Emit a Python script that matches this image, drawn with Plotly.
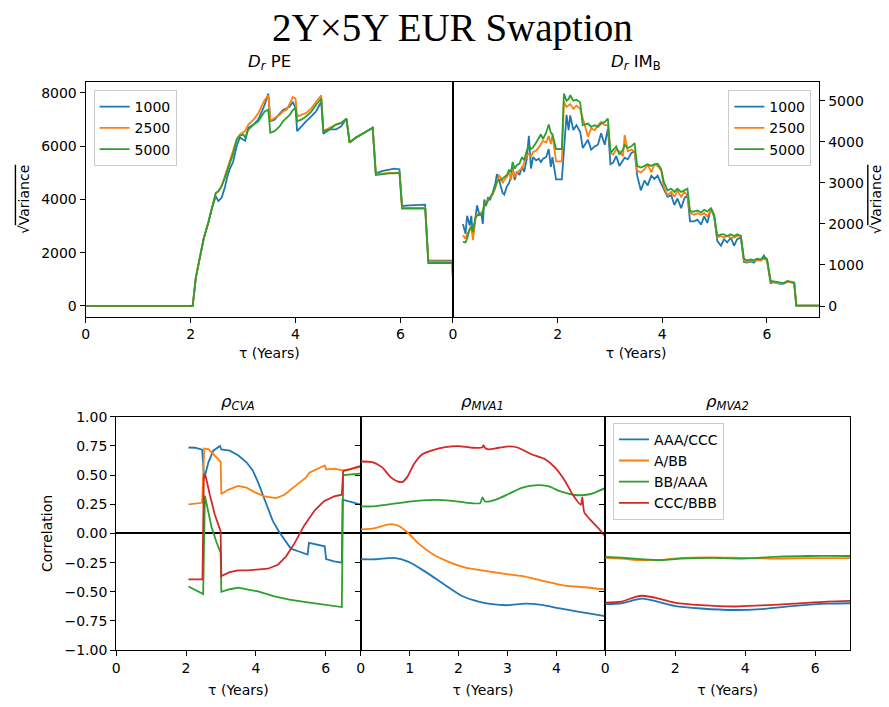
import plotly.graph_objects as go

# ---------------------------------------------------------------- data
# D_r PE : sqrt(variance) against tau for three path counts
pe_t = [0.00, 2.04, 2.10, 2.18, 2.25, 2.34, 2.40, 2.48, 2.53, 2.59,
        2.65, 2.70, 2.75, 2.81, 2.88, 2.94, 3.00, 3.04, 3.10, 3.20,
        3.29, 3.35, 3.41, 3.48, 3.52, 3.60, 3.70, 3.76, 3.83, 3.89,
        3.95, 4.00, 4.03, 4.11, 4.20, 4.30, 4.39, 4.49, 4.53, 4.65,
        4.77, 4.87, 4.97, 5.03, 5.15, 5.31, 5.47, 5.53, 5.66, 5.79,
        5.88, 5.98, 6.03, 6.17, 6.36, 6.47, 6.53, 6.99, 7.00]
pe_1000 = [0, 0, 1063, 1795, 2528, 3139, 3628, 4116, 3933, 4055,
           4421, 4849, 5154, 5398, 6009, 6315, 6253, 6192, 6681, 6803,
           6986, 7231, 7536, 7963, 6925, 6986, 7231, 7353, 7414, 7475,
           7658, 7414, 6559, 6742, 6925, 7108, 7292, 7658, 6461, 6620,
           6620, 6742, 7023, 6131, 6315, 6498, 6681, 4971, 5068, 5118,
           5154, 5129, 3750, 3774, 3798, 3798, 1698, 1698, 940]
pe_2500 = [0, 0, 1063, 1795, 2528, 3139, 3628, 4238, 4299, 4507,
           4849, 5154, 5521, 5826, 6253, 6437, 6498, 6559, 6803, 6986,
           7231, 7475, 7719, 7902, 6950, 7048, 7170, 7292, 7353, 7597,
           7841, 7780, 7108, 7170, 7231, 7414, 7658, 7902, 6559, 6681,
           6803, 6864, 7023, 6131, 6315, 6498, 6681, 4940, 4970, 4990,
           4990, 5010, 3680, 3680, 3680, 3680, 1673, 1673, 940]
pe_5000 = [0, 0, 1063, 1795, 2528, 3139, 3628, 4238, 4299, 4483,
           4788, 5093, 5398, 5704, 6253, 6376, 6437, 6315, 6620, 6803,
           6925, 7108, 7292, 7353, 6498, 6559, 6742, 6925, 7048, 7170,
           7353, 7414, 6925, 6986, 7108, 7292, 7536, 7780, 6559, 6620,
           6803, 6864, 7023, 6131, 6315, 6498, 6681, 4910, 4947, 4971,
           4971, 4996, 3652, 3652, 3652, 3652, 1612, 1612, 940]

# D_r IM_B : sqrt(variance) against tau for three path counts
im_t = [0.19, 0.24, 0.27, 0.32, 0.35, 0.38, 0.43, 0.46, 0.51, 0.54,
        0.57, 0.60, 0.63, 0.67, 0.71, 0.76, 0.81, 0.84, 0.88, 0.92,
        0.95, 0.98, 1.03, 1.07, 1.11, 1.14, 1.18, 1.22, 1.27, 1.32,
        1.36, 1.41, 1.45, 1.49, 1.53, 1.59, 1.64, 1.68, 1.72, 1.78,
        1.83, 1.87, 1.90, 1.93, 1.97, 2.08, 2.12, 2.17, 2.21, 2.24,
        2.30, 2.36, 2.43, 2.48, 2.58, 2.64, 2.71, 2.77, 2.83, 2.90,
        2.96, 3.01, 3.06, 3.12, 3.18, 3.25, 3.28, 3.34, 3.41, 3.47,
        3.52, 3.59, 3.66, 3.72, 3.79, 3.85, 3.91, 3.98, 4.03, 4.10,
        4.17, 4.23, 4.29, 4.36, 4.42, 4.48, 4.53, 4.61, 4.67, 4.74,
        4.80, 4.86, 4.93, 4.99, 5.05, 5.12, 5.18, 5.24, 5.31, 5.37,
        5.43, 5.50, 5.56, 5.62, 5.69, 5.75, 5.81, 5.88, 5.94, 6.00,
        6.07, 6.13, 6.19, 6.26, 6.32, 6.39, 6.45, 6.52, 6.56, 7.00]
im_1000 = [2000, 1762, 2198, 1960, 2198, 1722, 2158, 2452, 2198, 2278,
           2000, 2595, 2436, 2635, 2595, 2754, 2992, 3214, 3071, 2913,
           2754, 2714, 2913, 2992, 3151, 3389, 3071, 3270, 3191, 3389,
           3270, 3587, 4143, 3349, 3627, 3548, 3587, 3508, 3587, 3627,
           3825, 3389, 3627, 3400, 3087, 3087, 3900, 4659, 4286, 4643,
           4286, 4405, 4246, 3849, 4048, 3810, 3889, 3929, 4206, 3929,
           4325, 3452, 3492, 3651, 3413, 3571, 3611, 3571, 3730, 3770,
           3175, 2817, 3056, 2937, 3175, 3095, 3175, 2976, 2857, 2659,
           2698, 2460, 2619, 2381, 2619, 2698, 2063, 2063, 2103, 1984,
           2183, 2024, 2381, 2183, 1587, 1468, 1627, 1548, 1667, 1468,
           1627, 1667, 1071, 1056, 1087, 1056, 1135, 1111, 1230, 1111,
           556, 579, 556, 540, 548, 595, 579, 560, 10, 10]
im_2500 = [1722, 1643, 1762, 1841, 1960, 1603, 2119, 2238, 2214, 2278,
           2317, 2476, 2516, 2595, 2635, 2714, 2873, 2992, 3191, 3111,
           2992, 3071, 3151, 3270, 3071, 3325, 3151, 3230, 3310, 3349,
           3508, 3667, 3706, 3627, 3746, 3786, 3865, 3944, 4024, 3984,
           4143, 3944, 4183, 3900, 3524, 3524, 4976, 4850, 4881, 4921,
           4802, 4881, 4802, 4564, 4127, 4325, 4286, 4405, 4484, 4405,
           4405, 3730, 3690, 3810, 3770, 3651, 4167, 3770, 3810, 3770,
           3294, 3254, 3333, 3452, 3254, 3452, 3413, 3294, 2897, 2698,
           2778, 2659, 2817, 2659, 2778, 2698, 2262, 2222, 2262, 2222,
           2262, 2183, 2341, 2183, 1667, 1706, 1667, 1706, 1667, 1667,
           1706, 1706, 1111, 1071, 1111, 1087, 1111, 1111, 1151, 1111,
           595, 579, 556, 560, 548, 595, 579, 560, 10, 10]
im_5000 = [1563, 1548, 1643, 1881, 1920, 1801, 2158, 2198, 2238, 2214,
           2278, 2516, 2476, 2556, 2635, 2754, 2913, 3032, 3071, 3071,
           3111, 3151, 3191, 3310, 3270, 3508, 3349, 3429, 3468, 3627,
           3548, 3786, 3905, 3825, 3865, 3984, 4103, 4183, 4064, 4222,
           4421, 4222, 4183, 4050, 3825, 3825, 5175, 5000, 5040, 5135,
           5000, 5024, 4960, 4405, 4444, 4365, 4405, 4365, 4444, 4484,
           4563, 3730, 3810, 3889, 3690, 3810, 3929, 3849, 3889, 3968,
           3413, 3373, 3413, 3452, 3413, 3452, 3468, 3333, 3016, 2817,
           2857, 2778, 2857, 2778, 2817, 2857, 2302, 2302, 2325, 2278,
           2341, 2302, 2381, 2222, 1706, 1746, 1746, 1706, 1746, 1706,
           1746, 1706, 1151, 1111, 1135, 1111, 1151, 1135, 1190, 1151,
           611, 595, 580, 575, 560, 610, 590, 575, 10, 10]

path_counts = ["1000", "2500", "5000"]
pair_names = ["AAA/CCC", "A/BB", "BB/AAA", "CCC/BBB"]

# rho_CVA
cva_t_aaa_ccc = [2.07, 2.26, 2.46, 2.52, 2.64, 2.78, 2.97, 3.01, 3.25, 3.49,
                 3.73, 3.91, 4.06, 4.20, 4.34, 4.48, 4.67, 4.86, 5.00, 5.19,
                 5.48, 5.52, 5.97, 6.01, 6.24, 6.46, 6.48, 6.98]
cva_aaa_ccc = [0.737, 0.735, 0.718, 0.47, 0.61, 0.71, 0.75, 0.72, 0.71, 0.67,
               0.61, 0.54, 0.44, 0.33, 0.21, 0.11, 0.01, -0.07, -0.13, -0.15,
               -0.18, -0.08, -0.11, -0.22, -0.24, -0.25, 0.29, 0.25]
cva_t_a_bb = [2.07, 2.26, 2.46, 2.52, 2.64, 2.82, 2.99, 3.01, 3.20, 3.49,
              3.73, 3.96, 4.25, 4.58, 4.82, 5.10, 5.43, 5.53, 5.76, 5.97,
              6.01, 6.24, 6.48, 6.71, 6.98]
cva_a_bb = [0.249, 0.254, 0.263, 0.729, 0.724, 0.668, 0.617, 0.338, 0.374, 0.408,
            0.394, 0.355, 0.318, 0.304, 0.332, 0.402, 0.478, 0.522, 0.556, 0.584,
            0.550, 0.556, 0.542, 0.550, 0.570]
cva_t_bb_aaa = [2.07, 2.46, 2.49, 2.54, 2.64, 2.73, 2.87, 2.99, 3.01, 3.25,
                3.49, 3.77, 4.06, 4.53, 4.96, 5.43, 5.95, 6.46, 6.50, 6.98]
cva_bb_aaa = [-0.455, -0.520, -0.520, 0.324, 0.193, 0.053, -0.073, -0.165, -0.500, -0.478,
              -0.464, -0.478, -0.497, -0.539, -0.567, -0.589, -0.612, -0.631, 0.500, 0.514]
cva_t_ccc_bbb = [2.07, 2.47, 2.51, 2.56, 2.68, 2.82, 2.99, 3.01, 3.25, 3.49,
                 3.77, 4.06, 4.34, 4.63, 4.86, 5.10, 5.38, 5.67, 5.95, 6.24,
                 6.46, 6.50, 6.98]
cva_ccc_bbb = [-0.394, -0.394, 0.500, 0.494, 0.332, 0.165, 0.020, -0.366, -0.332, -0.316,
               -0.316, -0.310, -0.302, -0.268, -0.198, -0.087, 0.067, 0.193, 0.277, 0.318,
               0.332, 0.534, 0.578]

# rho_MVA1
mva1_t_aaa_ccc = [0.00, 0.31, 0.68, 0.98, 1.32, 1.73, 2.07, 2.41, 2.68, 3.02,
                  3.36, 3.70, 4.04, 4.44, 5.00]
mva1_aaa_ccc = [-0.221, -0.221, -0.209, -0.243, -0.327, -0.444, -0.536, -0.584, -0.606, -0.615,
                -0.601, -0.612, -0.640, -0.670, -0.709]
mva1_t_a_bb = [0.00, 0.24, 0.44, 0.61, 0.78, 0.98, 1.19, 1.46, 1.80, 2.14,
               2.54, 2.95, 3.36, 3.77, 4.17, 4.58, 5.00]
mva1_a_bb = [0.036, 0.042, 0.064, 0.081, 0.064, 0.0, -0.089, -0.173, -0.243, -0.293,
             -0.321, -0.346, -0.369, -0.411, -0.447, -0.461, -0.480]
mva1_t_bb_aaa = [0.00, 0.24, 0.51, 0.85, 1.19, 1.53, 1.87, 2.14, 2.44, 2.49,
                 2.54, 2.75, 3.02, 3.29, 3.56, 3.83, 4.10, 4.38, 4.58, 4.78, 5.00]
mva1_bb_aaa = [0.232, 0.232, 0.246, 0.265, 0.282, 0.288, 0.279, 0.265, 0.260, 0.310,
               0.274, 0.288, 0.338, 0.391, 0.413, 0.405, 0.358, 0.330, 0.330, 0.349, 0.391]
mva1_t_ccc_bbb = [0.00, 0.24, 0.44, 0.61, 0.75, 0.85, 0.95, 1.09, 1.26, 1.46,
                  1.73, 2.00, 2.27, 2.49, 2.51, 2.54, 2.61, 2.82, 3.05, 3.22,
                  3.49, 3.77, 3.97, 4.17, 4.34, 4.50, 4.53, 4.57, 4.72, 4.88, 5.00]
mva1_ccc_bbb = [0.617, 0.612, 0.567, 0.483, 0.447, 0.441, 0.483, 0.595, 0.679, 0.712,
                0.740, 0.749, 0.735, 0.740, 0.757, 0.735, 0.721, 0.735, 0.746, 0.735,
                0.679, 0.637, 0.567, 0.455, 0.330, 0.246, 0.310, 0.182, 0.106, 0.036, -0.025]

# rho_MVA2
mva2_t_flat = [0.00, 0.46, 1.03, 1.60, 2.17, 3.02, 3.88, 4.83, 5.78, 7.00]
mva2_a_bb = [-0.209, -0.215, -0.229, -0.226, -0.209, -0.204, -0.209, -0.215, -0.212, -0.212]
mva2_bb_aaa = [-0.201, -0.207, -0.221, -0.229, -0.215, -0.209, -0.215, -0.201, -0.193, -0.193]
mva2_t_low = [0.00, 0.46, 0.84, 1.07, 1.41, 1.98, 2.74, 3.69, 4.45, 5.40, 6.35, 7.00]
mva2_aaa_ccc = [-0.606, -0.598, -0.570, -0.559, -0.578, -0.620, -0.643, -0.656, -0.648, -0.620,
                -0.601, -0.598]
mva2_ccc_bbb = [-0.592, -0.584, -0.545, -0.534, -0.550, -0.592, -0.615, -0.626, -0.617, -0.601,
                -0.584, -0.578]

# ---------------------------------------------------------------- style
W, H = 889, 707
COLORS = ["#1f77b4", "#ff7f0e", "#2ca02c", "#d62728"]
LW = 1.8
FONT = "DejaVu Sans"


def px_x(p):
    return p / W


def px_y(p):
    return 1 - p / H


fig = go.Figure()

# top row
for name, ys, c in zip(path_counts, [pe_1000, pe_2500, pe_5000], COLORS):
    fig.add_trace(go.Scatter(x=pe_t, y=ys, mode="lines", name=name,
                             line=dict(color=c, width=LW),
                             xaxis="x", yaxis="y", legend="legend"))
for name, ys, c in zip(path_counts, [im_1000, im_2500, im_5000], COLORS):
    fig.add_trace(go.Scatter(x=im_t, y=ys, mode="lines", name=name,
                             line=dict(color=c, width=LW),
                             xaxis="x2", yaxis="y2", legend="legend2"))

# bottom row
cva = [(cva_t_aaa_ccc, cva_aaa_ccc), (cva_t_a_bb, cva_a_bb),
       (cva_t_bb_aaa, cva_bb_aaa), (cva_t_ccc_bbb, cva_ccc_bbb)]
mva1 = [(mva1_t_aaa_ccc, mva1_aaa_ccc), (mva1_t_a_bb, mva1_a_bb),
        (mva1_t_bb_aaa, mva1_bb_aaa), (mva1_t_ccc_bbb, mva1_ccc_bbb)]
mva2 = [(mva2_t_low, mva2_aaa_ccc), (mva2_t_flat, mva2_a_bb),
        (mva2_t_flat, mva2_bb_aaa), (mva2_t_low, mva2_ccc_bbb)]

for (tx, ys), name, c in zip(cva, pair_names, COLORS):
    fig.add_trace(go.Scatter(x=tx, y=ys, mode="lines", name=name, showlegend=False,
                             line=dict(color=c, width=LW), xaxis="x3", yaxis="y3"))
for (tx, ys), name, c in zip(mva1, pair_names, COLORS):
    fig.add_trace(go.Scatter(x=tx, y=ys, mode="lines", name=name, showlegend=False,
                             line=dict(color=c, width=LW, shape="spline", smoothing=0.6),
                             xaxis="x4", yaxis="y4"))
for (tx, ys), name, c in zip(mva2, pair_names, COLORS):
    fig.add_trace(go.Scatter(x=tx, y=ys, mode="lines", name=name,
                             line=dict(color=c, width=LW, shape="spline", smoothing=0.8),
                             xaxis="x5", yaxis="y5", legend="legend3"))

axis_common = dict(showline=True, mirror=True, linecolor="black", linewidth=1.1,
                   ticks="outside", ticklen=5, tickwidth=1.1, tickcolor="black",
                   showgrid=False, zeroline=False,
                   tickfont=dict(family=FONT, size=14, color="black"))

top_dom = [px_y(315.7), px_y(76)]
bot_dom = [px_y(657), px_y(418.3)]
tau_top = dict(text="τ (Years)", font=dict(family=FONT, size=14, color="black"), standoff=6)
tau_bot = dict(text="τ (Years)", font=dict(family=FONT, size=14, color="black"), standoff=10)
var_title = dict(text='√<span style="text-decoration:overline">Variance</span>',
                 font=dict(family=FONT, size=14, color="black"), standoff=8)
corr_ticks = [-1, -0.75, -0.5, -0.25, 0, 0.25, 0.5, 0.75, 1]
bottom_y = dict(range=[-1, 1], tickvals=corr_ticks, domain=bot_dom,
                zeroline=True, zerolinecolor="black", zerolinewidth=1.6)

fig.update_layout(
    width=W, height=H,
    margin=dict(l=0, r=0, t=0, b=0),
    paper_bgcolor="white", plot_bgcolor="white",
    font=dict(family=FONT, size=14, color="black"),
    xaxis=dict(axis_common, domain=[px_x(82), px_x(451)], range=[0, 7],
               tickvals=[0, 2, 4, 6], anchor="y", title=tau_top),
    yaxis=dict(axis_common, domain=top_dom, range=[-397, 8390],
               tickvals=[0, 2000, 4000, 6000, 8000], tickformat="d",
               anchor="x", title=var_title),
    xaxis2=dict(axis_common, domain=[px_x(451), px_x(819)], range=[0, 7],
                tickvals=[0, 2, 4, 6], anchor="y2", title=tau_top),
    yaxis2=dict(axis_common, domain=top_dom, range=[-257, 5450], side="right",
                tickvals=[0, 1000, 2000, 3000, 4000, 5000], tickformat="d",
                anchor="x2", title=var_title),
    xaxis3=dict(axis_common, domain=[px_x(112.7), px_x(358.3)], range=[0, 7],
                tickvals=[0, 2, 4, 6], anchor="y3", title=tau_bot),
    yaxis3=dict(axis_common, **bottom_y, tickformat=".2f", anchor="x3",
                title=dict(text="Correlation", font=dict(family=FONT, size=14, color="black"),
                           standoff=8)),
    xaxis4=dict(axis_common, domain=[px_x(358.3), px_x(604)], range=[0, 5],
                tickvals=[0, 1, 2, 3, 4], anchor="y4", title=tau_bot),
    yaxis4=dict(axis_common, **bottom_y, showticklabels=False, anchor="x4"),
    xaxis5=dict(axis_common, domain=[px_x(604), px_x(850)], range=[0, 7],
                tickvals=[0, 2, 4, 6], anchor="y5", title=tau_bot),
    yaxis5=dict(axis_common, **bottom_y, showticklabels=False, anchor="x5"),
)

legend_style = dict(bgcolor="rgba(255,255,255,0.8)", bordercolor="#cccccc", borderwidth=1,
                    font=dict(family=FONT, size=14, color="black"), tracegroupgap=0)
fig.update_layout(
    legend=dict(legend_style, x=px_x(90), y=px_y(84), xanchor="left", yanchor="top"),
    legend2=dict(legend_style, x=px_x(811), y=px_y(84), xanchor="right", yanchor="top"),
    legend3=dict(legend_style, x=px_x(611.7), y=px_y(424.3), xanchor="left", yanchor="top"),
)

# titles
ann = [
    dict(text="2Y×5Y EUR Swaption", x=px_x(451), y=px_y(20), xanchor="center", yanchor="middle",
         font=dict(family="Liberation Serif", size=39, color="black")),
    dict(text="<i>D<sub>r</sub></i> PE", x=px_x(266.5), y=px_y(76), yshift=7,
         xanchor="center", yanchor="bottom", font=dict(family=FONT, size=16.5, color="black")),
    dict(text="<i>D<sub>r</sub></i> IM<sub>B</sub>", x=px_x(635), y=px_y(76), yshift=7,
         xanchor="center", yanchor="bottom", font=dict(family=FONT, size=16.5, color="black")),
    dict(text="<i>ρ<sub>CVA</sub></i>", x=px_x(235.5), y=px_y(418.3), yshift=2,
         xanchor="center", yanchor="bottom", font=dict(family=FONT, size=16.5, color="black")),
    dict(text="<i>ρ<sub>MVA1</sub></i>", x=px_x(481), y=px_y(418.3), yshift=2,
         xanchor="center", yanchor="bottom", font=dict(family=FONT, size=16.5, color="black")),
    dict(text="<i>ρ<sub>MVA2</sub></i>", x=px_x(727), y=px_y(418.3), yshift=2,
         xanchor="center", yanchor="bottom", font=dict(family=FONT, size=16.5, color="black")),
]
for a in ann:
    a.update(xref="paper", yref="paper", showarrow=False)
fig.update_layout(annotations=ann)

fig.write_html("out.html")
